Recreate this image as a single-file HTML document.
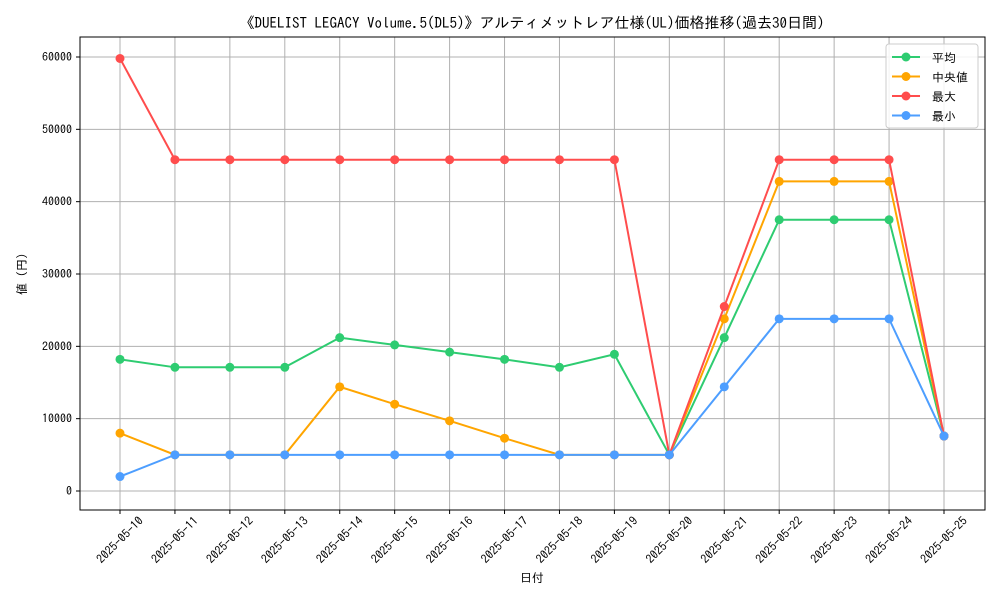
<!DOCTYPE html>
<html><head><meta charset="utf-8"><style>
body{margin:0;background:#fff}
svg{display:block;font-family:"IPAGothic","Liberation Mono","Noto Sans CJK JP",monospace}
</style></head><body>
<svg id="chart" width="1000" height="600"></svg>
<script>
const dates=["2025-05-10","2025-05-11","2025-05-12","2025-05-13","2025-05-14","2025-05-15","2025-05-16","2025-05-17","2025-05-18","2025-05-19","2025-05-20","2025-05-21","2025-05-22","2025-05-23","2025-05-24","2025-05-25"];
const avgVals=[18200,17100,17100,17100,21200,20200,19200,18200,17100,18900,5000,21200,37500,37500,37500,7600];
const medVals=[8000,5000,5000,5000,14400,12000,9700,7300,5000,5000,5000,23800,42800,42800,42800,7600];
const maxVals=[59800,45800,45800,45800,45800,45800,45800,45800,45800,45800,5000,25500,45800,45800,45800,7600];
const minVals=[2000,5000,5000,5000,5000,5000,5000,5000,5000,5000,5000,14400,23800,23800,23800,7600];
const yTicks=[0,10000,20000,30000,40000,50000,60000];
const seriesNames=["平均","中央値","最大","最小"];
const colors=["#2ecc71","#ffa500","#ff4d4d","#4d9eff"];
const allSeries=[avgVals,medVals,maxVals,minVals];

const svg=document.getElementById('chart');
const NS="http://www.w3.org/2000/svg";
function mk(tag,attrs,parent){const e=document.createElementNS(NS,tag);for(const k in attrs)e.setAttribute(k,attrs[k]);(parent||svg).appendChild(e);return e;}
const L=80,R=985,T=37,B=510;
const x=i=>120+i*(944-120)/(dates.length-1);
const y=v=>491-v*(491-57)/60000;

dates.forEach((d,i)=>{
 const g=mk('line',{x1:x(i),x2:x(i),y1:T,y2:B,stroke:'#b0b0b0','stroke-width':1});
 
 
 mk('line',{x1:x(i),x2:x(i),y1:B,y2:B+4,stroke:'#000'});
 const cx=x(i),cy=B+30;
 const t=mk('text',{x:cx,y:cy+4,'font-size':12,'text-anchor':'middle',transform:`rotate(-45 ${cx} ${cy})`});
 t.textContent=d;
 
 
});
yTicks.forEach(v=>{
 const g=mk('line',{x1:L,x2:R,y1:y(v),y2:y(v),stroke:'#b0b0b0','stroke-width':1});
 
 
 mk('line',{x1:L-4,x2:L,y1:y(v),y2:y(v),stroke:'#000'});
 const t=mk('text',{x:L-8,y:y(v)+4,'font-size':12,'text-anchor':'end'});
 t.textContent=v;
 
 
});
const frame=mk('rect',{x:L,y:T,width:R-L,height:B-T,fill:'none',stroke:'#000'});



allSeries.forEach((s,k)=>{
 const p=mk('polyline',{points:s.map((v,i)=>x(i)+','+y(v)).join(' '),fill:'none',stroke:colors[k],'stroke-width':2});
 
 
 s.forEach((v,i)=>{
  const c=mk('circle',{cx:x(i),cy:y(v),r:4.5,fill:colors[k]});
  
  
 });
});

const lg=mk('g',{});


mk('rect',{x:886,y:44,width:92,height:84,rx:3,fill:'#fff','fill-opacity':0.85,stroke:'#ccc'},lg);
seriesNames.forEach((n,k)=>{
 const yy=57+k*19.5;
 const e=mk('g',{},lg);
 
 
 mk('line',{x1:892,x2:920,y1:yy,y2:yy,stroke:colors[k],'stroke-width':2},e);
 mk('circle',{cx:906,cy:yy,r:4.5,fill:colors[k]},e);
 const t=mk('text',{x:932,y:yy+5,'font-size':12},e);t.textContent=n;
});

const title=mk('text',{x:532,y:28,'font-size':15,'text-anchor':'middle'});
title.textContent="《DUELIST LEGACY Volume.5(DL5)》アルティメットレア仕様(UL)価格推移(過去30日間)";


const xt=mk('text',{x:532,y:582,'font-size':12,'text-anchor':'middle'});
xt.textContent="日付";


const yt=mk('text',{x:26,y:274,'font-size':12,'text-anchor':'middle',transform:'rotate(-90 26 274)'});
yt.textContent="値 (円)";


</script>
</body></html>
